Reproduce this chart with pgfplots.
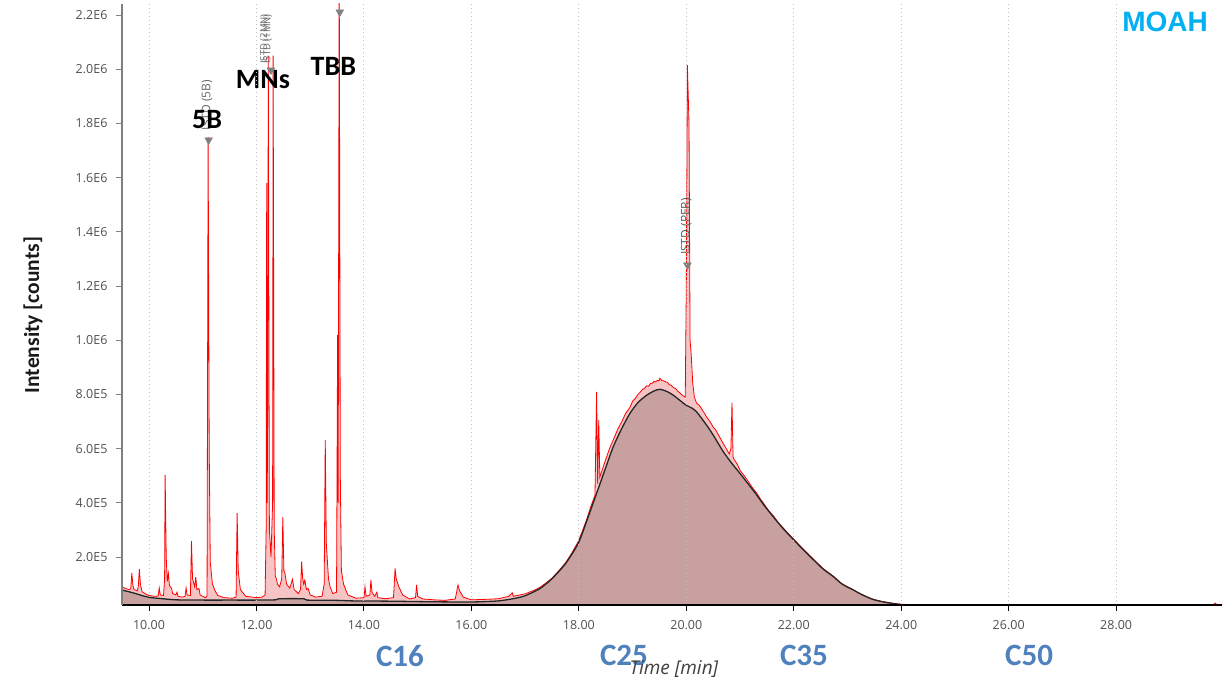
\documentclass[border=0pt]{standalone}
\usepackage{fontspec}
\setmainfont{Open Sans}
\newfontfamily\carlito{Carlito}
\newfontfamily\lsans{Liberation Sans}
\usepackage{pgfplots}
\usepackage{pgfplotstable}
\pgfplotsset{compat=1.18}
\definecolor{hump}{RGB}{200,160,160}
\definecolor{pinkf}{RGB}{246,196,196}
\definecolor{cblue}{RGB}{79,129,189}
\definecolor{moah}{RGB}{0,176,240}
\definecolor{ticklab}{RGB}{80,80,80}
\definecolor{mk}{RGB}{128,128,128}

% red trace (time [min], intensity in thousands of counts)
\pgfplotstableread{
t v
9.50 90
9.55 85
9.62 80
9.66 82
9.68 140
9.70 95
9.72 80
9.78 75
9.80 90
9.82 155
9.84 100
9.87 72
9.95 62
10.00 58
10.10 55
10.17 56
10.19 86
10.21 60
10.27 58
10.29 120
10.30 503
10.32 200
10.34 110
10.36 140
10.38 95
10.42 84
10.44 65
10.50 60
10.52 70
10.54 55
10.62 52
10.67 55
10.69 86
10.71 60
10.77 58
10.79 259
10.81 120
10.85 90
10.87 127
10.89 80
10.93 84
10.95 60
11.05 50
11.08 55
11.10 1750
11.12 600
11.14 180
11.18 100
11.23 75
11.28 58
11.40 50
11.55 48
11.62 52
11.64 362
11.66 150
11.70 80
11.80 55
12.00 50
12.10 52
12.16 60
12.18 300
12.19 1580
12.20 400
12.21 900
12.22 2050
12.24 300
12.27 200
12.30 400
12.31 2050
12.33 300
12.35 130
12.37 120
12.39 100
12.43 90
12.47 120
12.49 347
12.51 150
12.53 140
12.56 100
12.62 85
12.67 118
12.70 80
12.78 65
12.82 80
12.84 183
12.86 120
12.88 100
12.90 115
12.93 80
12.96 84
13.00 60
13.10 52
13.22 55
13.26 100
13.28 632
13.30 250
13.34 120
13.37 90
13.42 65
13.49 70
13.51 1020
13.52 400
13.54 2400
13.56 500
13.58 150
13.62 100
13.70 60
13.85 48
14.00 50
14.02 90
14.04 55
14.11 60
14.13 115
14.15 70
14.20 55
14.24 70
14.26 50
14.40 46
14.55 50
14.58 158
14.60 120
14.65 90
14.72 60
14.85 45
14.96 50
14.98 97
15.00 55
15.10 45
15.30 42
15.50 40
15.70 45
15.75 97
15.78 75
15.85 52
16.00 42
16.30 44
16.50 46
16.70 55
16.76 68
16.78 55
16.90 60
17.00 64
17.10 72
17.20 80
17.28 89
17.40 106
17.50 122
17.62 148
17.75 178
17.87 215
17.99 258
18.07 298
18.15 342
18.22 385
18.30 428
18.33 809
18.35 470
18.37 705
18.39 495
18.45 530
18.50 560
18.57 600
18.64 632
18.72 670
18.80 700
18.87 730
18.95 752
19.00 775
19.05 785
19.10 800
19.14 808
19.18 818
19.22 822
19.26 832
19.30 830
19.33 840
19.37 842
19.40 848
19.43 846
19.46 852
19.49 850
19.51 860
19.54 852
19.58 850
19.62 846
19.65 845
19.68 836
19.72 834
19.76 825
19.80 822
19.84 812
19.88 806
19.92 798
19.96 792
19.98 790
20.00 1200
20.02 2015
20.05 1800
20.07 1000
20.09 950
20.12 840
20.15 790
20.19 768
20.24 760
20.30 742
20.34 730
20.38 716
20.44 700
20.50 680
20.55 668
20.60 650
20.65 632
20.69 618
20.75 598
20.80 580
20.83 600
20.85 770
20.87 570
20.89 560
20.95 542
21.00 520
21.07 502
21.15 480
21.23 456
21.31 436
21.38 414
21.45 395
21.53 372
21.62 352
21.70 330
21.80 308
21.90 286
22.00 266
22.10 245
22.20 225
22.30 205
22.37 191
22.46 174
22.55 157
22.65 142
22.74 129
22.82 114
22.90 101
23.00 90
23.11 79
23.20 68
23.30 59
23.40 50
23.48 44
23.60 38
23.70 34
23.85 29
23.98 26
24.20 24
29.80 24
29.85 30
29.87 24
29.97 24
}\redtrace

% fitted hump / baseline (black)
\pgfplotstableread{
t v
9.50 78
9.70 68
9.90 56
10.00 51
10.20 47
10.50 42
11.00 41
11.50 41
12.00 41
12.36 42
12.42 46
12.88 46
12.94 41
13.50 40
13.80 38
14.50 37
15.20 35
16.00 34
16.50 38
16.80 47
17.00 57
17.28 84
17.50 120
17.75 175
17.99 251
18.15 335
18.33 435
18.50 530
18.64 607
18.80 675
18.95 730
19.10 770
19.26 797
19.40 813
19.51 819
19.65 810
19.76 797
19.90 775
19.99 761
20.10 750
20.19 736
20.38 686
20.50 650
20.69 588
20.85 545
21.00 508
21.15 470
21.31 429
21.45 390
21.62 348
21.80 305
22.00 263
22.20 222
22.37 189
22.55 155
22.74 127
22.90 100
23.11 78
23.30 58
23.48 43
23.70 33
23.98 25
24.20 23
29.97 23
}\blacktrace

\begin{document}
\begin{tikzpicture}
\useasboundingbox (0pt,0pt) rectangle (1223pt,682pt);
\begin{axis}[
  at={(122pt,77pt)}, anchor=south west,
  scale only axis, width=1100pt, height=601pt,
  xmin=9.497, xmax=29.97, ymin=22.9, ymax=2241,
  axis x line*=bottom, axis y line*=left,
  x axis line style={black, line width=2pt, -},
  y axis line style={mk, line width=1.6pt, -},
  xtick={10,12,...,28},
  xticklabels={10.00,12.00,14.00,16.00,18.00,20.00,22.00,24.00,26.00,28.00},
  ytick={200,400,...,2200},
  yticklabels={2.0E5,4.0E5,6.0E5,8.0E5,1.0E6,1.2E6,1.4E6,1.6E6,1.8E6,2.0E6,2.2E6},
  tick align=outside, major tick length=6pt,
  xtick style={black, line width=1pt},
  ytick style={mk, line width=1pt},
  tick label style={font={\fontsize{12.5}{14}\selectfont}, text=ticklab},
  xticklabel style={yshift=-6pt},
  yticklabel style={xshift=-5pt},
  xmajorgrids,
  major x grid style={gray!50, line width=1pt, dash pattern=on 1pt off 3pt},
  axis on top,
  clip mode=individual,
]
\addplot[draw=none, fill=pinkf] table[x=t,y=v] {\redtrace} \closedcycle;
\addplot[draw=none, fill=hump, smooth, tension=0.4] table[x=t,y=v] {\blacktrace} \closedcycle;
\addplot[red, line width=0.8pt] table[x=t,y=v] {\redtrace};
\addplot[black!85, line width=1.3pt, smooth, tension=0.4] table[x=t,y=v] {\blacktrace};
\addplot[only marks, mark=triangle*, mark size=4.5pt,
  mark options={rotate=180, fill=mk, draw=mk}] coordinates {
  (11.11,1739) (12.27,1997) (13.55,2211) (20.02,1277)};

\node[rotate=90, anchor=west, font={\fontsize{12}{13}\selectfont}, text=black!60, inner sep=0pt]
  at (axis cs:11.08,1775) {ISTD (5B)};
\node[rotate=90, anchor=west, font={\fontsize{9.5}{11}\selectfont}, text=black!60, inner sep=0pt]
  at (axis cs:12.15,2020) {ISTD (2MN)};
\node[rotate=90, anchor=west, font={\fontsize{9.5}{11}\selectfont}, text=black!60, inner sep=0pt]
  at (axis cs:12.21,2020) {ISTD (1MN)};
\node[rotate=90, anchor=west, font={\fontsize{12}{13}\selectfont}, text=black!65, inner sep=0pt]
  at (axis cs:20.00,1314) {ISTD (PER)};

\node[font={\carlito\bfseries\fontsize{28}{30}\selectfont}] at (axis cs:11.08,1816) {5B};
\node[font={\carlito\bfseries\fontsize{28}{30}\selectfont}] at (axis cs:12.12,1964) {MNs};
\node[font={\carlito\bfseries\fontsize{28}{30}\selectfont}] at (axis cs:13.43,2012) {TBB};
\node[font={\lsans\bfseries\fontsize{28}{30}\selectfont}, text=moah] at (axis cs:28.91,2174) {MOAH};

\node[font={\carlito\bfseries\fontsize{31}{33}\selectfont}, text=cblue] at (axis cs:14.67,-165) {C16};
\node[font={\carlito\bfseries\fontsize{31}{33}\selectfont}, text=cblue] at (axis cs:18.84,-165) {C25};
\node[font={\carlito\bfseries\fontsize{31}{33}\selectfont}, text=cblue] at (axis cs:22.19,-165) {C35};
\node[font={\carlito\bfseries\fontsize{31}{33}\selectfont}, text=cblue] at (axis cs:26.38,-165) {C50};
\node[font={\itshape\fontsize{19}{21}\selectfont}, text=black!75] at (axis cs:19.77,-215) {Time [min]};
\node[rotate=90, font={\carlito\bfseries\fontsize{21.5}{23}\selectfont}, text=black!90] at (axis cs:7.84,1093) {Intensity [counts]};
\end{axis}
\end{tikzpicture}
\end{document}
